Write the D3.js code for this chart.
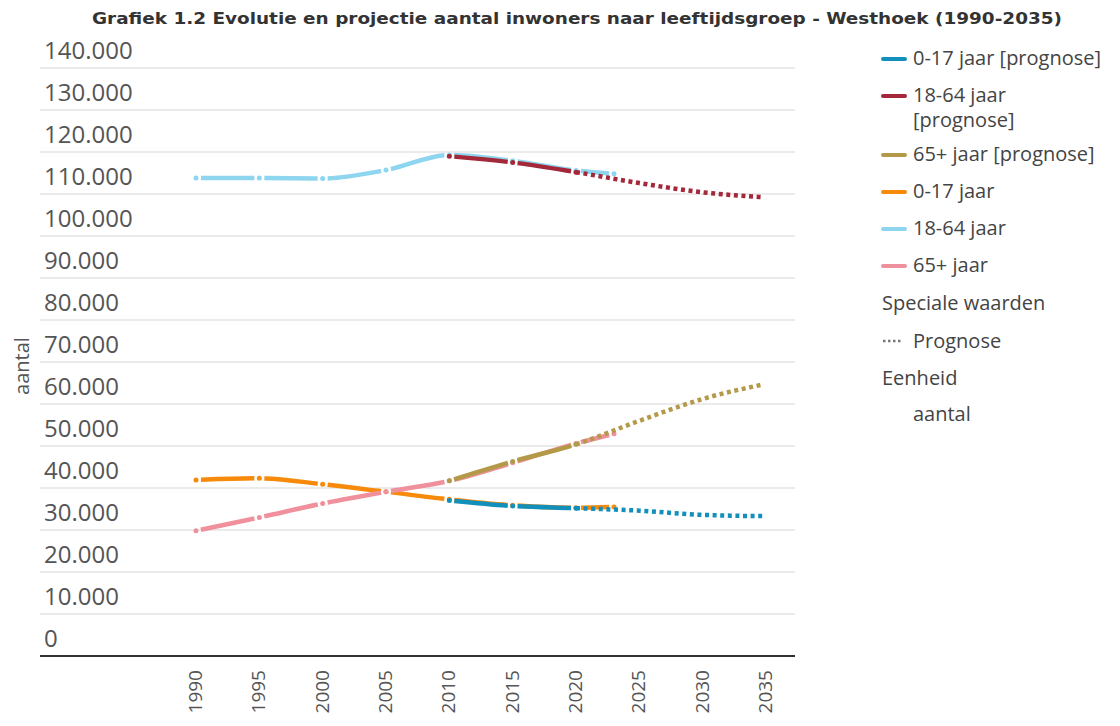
<!DOCTYPE html>
<html>
<head>
<meta charset="utf-8">
<script src="https://cdn.jsdelivr.net/npm/d3@7"></script>
<style>
  body { margin: 0; background: #fff; }
  svg { display: block; font-family: "Open Sans", "Noto Sans", sans-serif; }
</style>
</head>
<body>
<svg width="1120" height="726"></svg>
<script>
'use strict'

const title = 'Grafiek 1.2 Evolutie en projectie aantal inwoners naar leeftijdsgroep - Westhoek (1990-2035)'
const yTicks = [0, 10000, 20000, 30000, 40000, 50000, 60000, 70000, 80000, 90000, 100000, 110000, 120000, 130000, 140000]
const xTicks = [1990, 1995, 2000, 2005, 2010, 2015, 2020, 2025, 2030, 2035]

const yearsObs = [1990, 1995, 2000, 2005, 2010, 2015, 2020, 2023]
const obs0_17 = [41900, 42300, 40900, 39100, 37300, 35900, 35300, 35500]
const obs18_64 = [113800, 113800, 113700, 115700, 119300, 117900, 115600, 114800]
const obs65 = [29800, 33000, 36300, 39100, 41700, 46000, 50600, 52900]

const yearsProg = [2010, 2015, 2020, 2025, 2030, 2035]
const prog0_17 = [37000, 35700, 35200, 34600, 33600, 33300]
const prog18_64 = [119000, 117500, 115200, 112600, 110400, 109200]
const prog65 = [41700, 46300, 50400, 56000, 61200, 64800]
const prognoseFrom = 2020

const series = [
  { name: '0-17 jaar', years: yearsObs, values: obs0_17, color: '#f78a0a' },
  { name: '18-64 jaar', years: yearsObs, values: obs18_64, color: '#8ed6ef' },
  { name: '65+ jaar', years: yearsObs, values: obs65, color: '#ef909c' },
  { name: '0-17 jaar [prognose]', years: yearsProg, values: prog0_17, color: '#138fbb', prog: true },
  { name: '18-64 jaar [prognose]', years: yearsProg, values: prog18_64, color: '#a3283a', prog: true },
  { name: '65+ jaar [prognose]', years: yearsProg, values: prog65, color: '#b49a48', prog: true }
]

const legendItems = [
  { label: ['0-17 jaar [prognose]'], color: '#138fbb' },
  { label: ['18-64 jaar', '[prognose]'], color: '#a3283a' },
  { label: ['65+ jaar [prognose]'], color: '#b49a48' },
  { label: ['0-17 jaar'], color: '#f78a0a' },
  { label: ['18-64 jaar'], color: '#8ed6ef' },
  { label: ['65+ jaar'], color: '#ef909c' }
]

const svg = d3.select('svg')
const textColor = '#444'
const legendFont = 20

const x = d3.scaleLinear().domain([1990, 2035]).range([196, 766])
const y = d3.scaleLinear().domain([0, 140000]).range([656, 68])

svg.append('text')
  .attr('x', 92).attr('y', 24)
  .attr('font-family', '"DejaVu Sans", sans-serif')
  .attr('font-size', 16).attr('font-weight', 'bold')
  .attr('fill', '#333')
  .attr('textLength', 970).attr('lengthAdjust', 'spacingAndGlyphs')
  .text(title)

// grid + y labels
const fmt = (v) => d3.format(',')(v).replace(/,/g, '.')
const yg = svg.append('g')
yg.selectAll('line').data(yTicks.filter((d) => d > 0)).enter().append('line')
  .attr('x1', 40).attr('x2', 795)
  .attr('y1', (d) => y(d)).attr('y2', (d) => y(d))
  .attr('stroke', '#e4e4e4').attr('stroke-width', 1.5)
yg.selectAll('text').data(yTicks).enter().append('text')
  .attr('x', 44).attr('y', (d) => y(d) - 9)
  .attr('font-size', 24).attr('fill', '#555')
  .text(fmt)

svg.append('line')
  .attr('x1', 40).attr('x2', 795).attr('y1', y(0)).attr('y2', y(0))
  .attr('stroke', '#333').attr('stroke-width', 2)

svg.append('text')
  .attr('transform', 'translate(29,366) rotate(-90)')
  .attr('text-anchor', 'middle')
  .attr('font-size', 20).attr('fill', '#555')
  .text('aantal')

svg.append('g').selectAll('text').data(xTicks).enter().append('text')
  .attr('transform', (d) => `translate(${x(d) + 6},670) rotate(-90)`)
  .attr('text-anchor', 'end')
  .attr('font-size', 19).attr('fill', '#555')
  .text((d) => d)

// lines
const line = d3.line()
  .x((d) => x(d[0]))
  .y((d) => y(d[1]))
  .curve(d3.curveMonotoneX)

const lengthAtX = (node, total, tx) => {
  let lo = 0
  let hi = total
  for (let i = 0; i < 40; i++) {
    const mid = (lo + hi) / 2
    if (node.getPointAtLength(mid).x < tx) lo = mid
    else hi = mid
  }
  return (lo + hi) / 2
}

const gap = 5
const lg = svg.append('g')
series.forEach((s) => {
  const pts = s.years.map((yr, i) => [yr, s.values[i]])
  const path = lg.append('path')
    .datum(pts)
    .attr('d', line)
    .attr('fill', 'none')
    .attr('stroke', s.color)
    .attr('stroke-width', 4.5)
  const node = path.node()
  const total = node.getTotalLength()
  const solidPts = s.prog ? pts.filter((p) => p[0] <= prognoseFrom) : pts
  const Ls = solidPts.map((p) => lengthAtX(node, total, x(p[0])))
  Ls[0] = 0
  const dash = [0, gap]
  for (let i = 0; i < Ls.length - 1; i++) {
    dash.push(Math.max(0, Ls[i + 1] - Ls[i] - 2 * gap))
    dash.push(i < Ls.length - 2 ? 2 * gap : gap)
  }
  if (s.prog) {
    let pos = Ls[Ls.length - 1] + gap
    while (pos < total) {
      dash.push(4, 3.6)
      pos += 7.6
    }
  } else {
    dash.push(0, 1000)
  }
  path.attr('stroke-dasharray', dash.join(','))
  lg.selectAll(null).data(solidPts).enter().append('circle')
    .attr('cx', (d) => x(d[0])).attr('cy', (d) => y(d[1]))
    .attr('r', 2.5).attr('fill', s.color)
})

// legend
const leg = svg.append('g')
let ly = 59
legendItems.forEach((item) => {
  leg.append('line')
    .attr('x1', 883).attr('x2', 905).attr('y1', ly).attr('y2', ly)
    .attr('stroke', item.color).attr('stroke-width', 4).attr('stroke-linecap', 'round')
  item.label.forEach((s, i) => {
    leg.append('text')
      .attr('x', 913).attr('y', ly + 6 + i * 25)
      .attr('font-size', legendFont).attr('fill', textColor)
      .text(s)
  })
  ly += 37 + (item.label.length - 1) * 22
})
leg.append('text').attr('x', 882).attr('y', ly + 7)
  .attr('font-size', legendFont).attr('fill', textColor).text('Speciale waarden')
ly += 38
leg.append('line')
  .attr('x1', 883).attr('x2', 903).attr('y1', ly).attr('y2', ly)
  .attr('stroke', '#777').attr('stroke-width', 2.5).attr('stroke-dasharray', '2.5,2.5')
leg.append('text').attr('x', 913).attr('y', ly + 7)
  .attr('font-size', legendFont).attr('fill', textColor).text('Prognose')
ly += 37
leg.append('text').attr('x', 882).attr('y', ly + 7)
  .attr('font-size', legendFont).attr('fill', textColor).text('Eenheid')
ly += 36
leg.append('text').attr('x', 913).attr('y', ly + 7)
  .attr('font-size', legendFont).attr('fill', textColor).text('aantal')
</script>
</body>
</html>
